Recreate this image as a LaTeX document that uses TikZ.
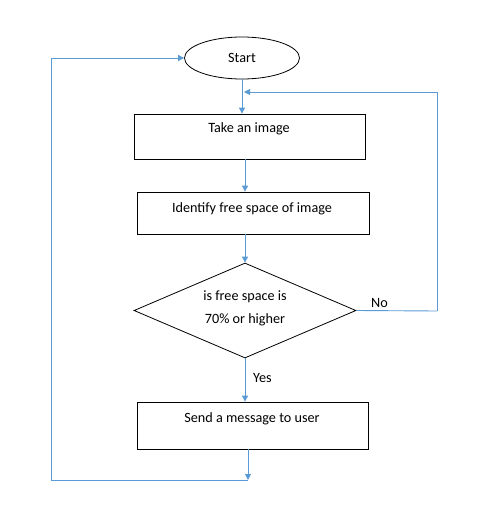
\documentclass[tikz,border=0pt]{standalone}
\usepackage{fontspec}
\setmainfont{Carlito}
\usetikzlibrary{shapes.geometric,arrows.meta}
\definecolor{lineblue}{RGB}{91,155,213}
\tikzset{
  box/.style={draw=black, line width=0.8pt, rectangle, inner sep=0pt},
  txt/.style={inner sep=0pt, font=\fontsize{14.2}{16}\selectfont},
  arr/.style={draw=lineblue, line width=0.9pt, -{Triangle[width=6pt,length=6pt]}},
  plain/.style={draw=lineblue, line width=0.9pt}
}
\begin{document}
\begin{tikzpicture}[x=1pt,y=-1pt]
\useasboundingbox (0,0) rectangle (495,525);
\node[draw=black, line width=0.8pt, ellipse, minimum width=115pt, minimum height=42pt, inner sep=0pt] (start) at (242,58) {};
\node[txt] (starttxt) at (start.center) {Start};
\node[box, minimum width=231pt, minimum height=45pt] (take) at (249.5,136.5) {};
\node[txt] (taketxt) at (249,129) {Take an image};
\node[box, minimum width=232pt, minimum height=42pt] (ident) at (253,213) {};
\node[txt] (identtxt) at (252,209) {Identify free space of image};
\node[draw=black, line width=0.8pt, diamond, minimum width=222pt, minimum height=95pt, inner sep=0pt] (dec) at (245,310.5) {};
\node[txt] (dectxt1) at (245,297) {is free space is};
\node[txt] (dectxt2) at (245,320) {70\% or higher};
\node[box, minimum width=231pt, minimum height=47pt] (send) at (252.5,425.5) {};
\node[txt] (sendtxt) at (252,419) {Send a message to user};
\coordinate (join) at (244,92);
\coordinate (noc) at (437,311);
\coordinate (endc) at (248,480);
\coordinate (leftc) at (51,480);
\draw[arr] (start.south) -- (start.south |- take.north);
\draw[arr] (take.south -| dec.north) -- (ident.north -| dec.north);
\draw[arr] (ident.south -| dec.north) -- (dec.north);
\draw[arr] (dec.south) -- (dec.south |- send.north);
\node[txt, anchor=west] (yes) at (253,378) {Yes};
\draw[plain] (dec.east) -- (noc);
\node[txt, anchor=west] (no) at (371,303) {No};
\draw[arr] (noc) |- (join);
\draw[arr] (send.south -| endc) -- (endc);
\draw[arr] (endc) -- (leftc) |- (start.west);
\end{tikzpicture}
\end{document}
